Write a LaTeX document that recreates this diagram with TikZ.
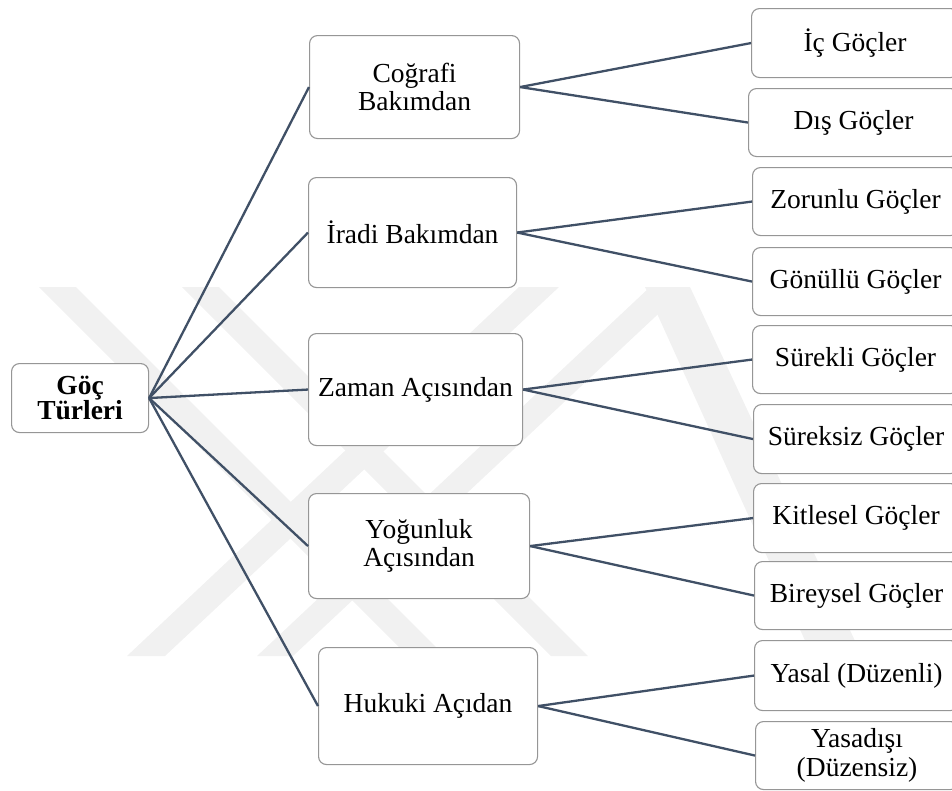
\documentclass[tikz,border=0pt]{standalone}
\usepackage{fontspec}
\setmainfont{Liberation Serif}
\definecolor{linkcol}{RGB}{64,80,102}
\definecolor{boxgray}{RGB}{150,150,150}
\definecolor{wmgray}{RGB}{241,241,241}
\begin{document}
\begin{tikzpicture}[x=1pt,y=-1pt,
  box/.style={draw=boxgray, line width=1.1pt, rounded corners=8pt, fill=white,
    anchor=north west, inner sep=0pt, align=center,
    font=\fontsize{27.5}{28.5}\selectfont},
  link/.style={draw=linkcol, line width=2.3pt},
  wm/.style={fill=wmgray, draw=none}]
\useasboundingbox (0,0) rectangle (952,790);
\clip (0,0) rectangle (952,790);
% faint watermark
\fill[wm] (39,287) -- (76,287) -- (445,656) -- (408,656) -- cycle;
\fill[wm] (182,287) -- (219,287) -- (588,656) -- (551,656) -- cycle;
\fill[wm] (127,656) -- (165,656) -- (559,287) -- (519,287) -- cycle;
\fill[wm] (257,656) -- (293,656) -- (687,287) -- (650,287) -- cycle;
\fill[wm] (645,287) -- (690,287) -- (862,656) -- (812,656) -- cycle;
% root
\node[box, minimum width=137pt, minimum height=69pt,
  font=\fontsize{27.5}{24}\selectfont\bfseries] (root) at (11,363) {Göç\\Türleri};
% middle level
\node[box, minimum width=210pt, minimum height=103pt] (cog) at (309,35) {Coğrafi\\Bakımdan};
\node[box, minimum width=208pt, minimum height=110pt] (ira) at (308,177) {İradi Bakımdan};
\node[box, minimum width=214pt, minimum height=112pt] (zam) at (308,333) {Zaman Açısından};
\node[box, minimum width=221pt, minimum height=105pt] (yog) at (308,493) {Yoğunluk\\Açısından};
\node[box, minimum width=219pt, minimum height=117pt] (huk) at (318,647) {Hukuki Açıdan};
% right level
\node[box, minimum width=207pt, minimum height=69pt] (ic) at (751,8) {İç Göçler};
\node[box, minimum width=210pt, minimum height=68pt] (dis) at (748,88) {Dış Göçler};
\node[box, minimum width=206pt, minimum height=68pt] (zor) at (752,167) {Zorunlu Göçler};
\node[box, minimum width=206pt, minimum height=68pt] (gon) at (752,247) {Gönüllü Göçler};
\node[box, minimum width=206pt, minimum height=68pt] (sur) at (752,325) {Sürekli Göçler};
\node[box, minimum width=205pt, minimum height=69pt] (surz) at (753,404) {Süreksiz Göçler};
\node[box, minimum width=205pt, minimum height=69pt] (kit) at (753,483) {Kitlesel Göçler};
\node[box, minimum width=204pt, minimum height=68pt] (bir) at (754,561) {Bireysel Göçler};
\node[box, minimum width=204pt, minimum height=70pt] (yas) at (754,640) {Yasal (Düzenli)};
\node[box, minimum width=203pt, minimum height=68pt] (yasd) at (755,721) {Yasadışı\\(Düzensiz)};
% connectors
\foreach \m in {cog,ira,zam,yog,huk} \draw[link] (root.east) -- (\m.west);
\draw[link] (cog.east) -- (ic.west);
\draw[link] (cog.east) -- (dis.west);
\draw[link] (ira.east) -- (zor.west);
\draw[link] (ira.east) -- (gon.west);
\draw[link] (zam.east) -- (sur.west);
\draw[link] (zam.east) -- (surz.west);
\draw[link] (yog.east) -- (kit.west);
\draw[link] (yog.east) -- (bir.west);
\draw[link] (huk.east) -- (yas.west);
\draw[link] (huk.east) -- (yasd.west);
\end{tikzpicture}
\end{document}
